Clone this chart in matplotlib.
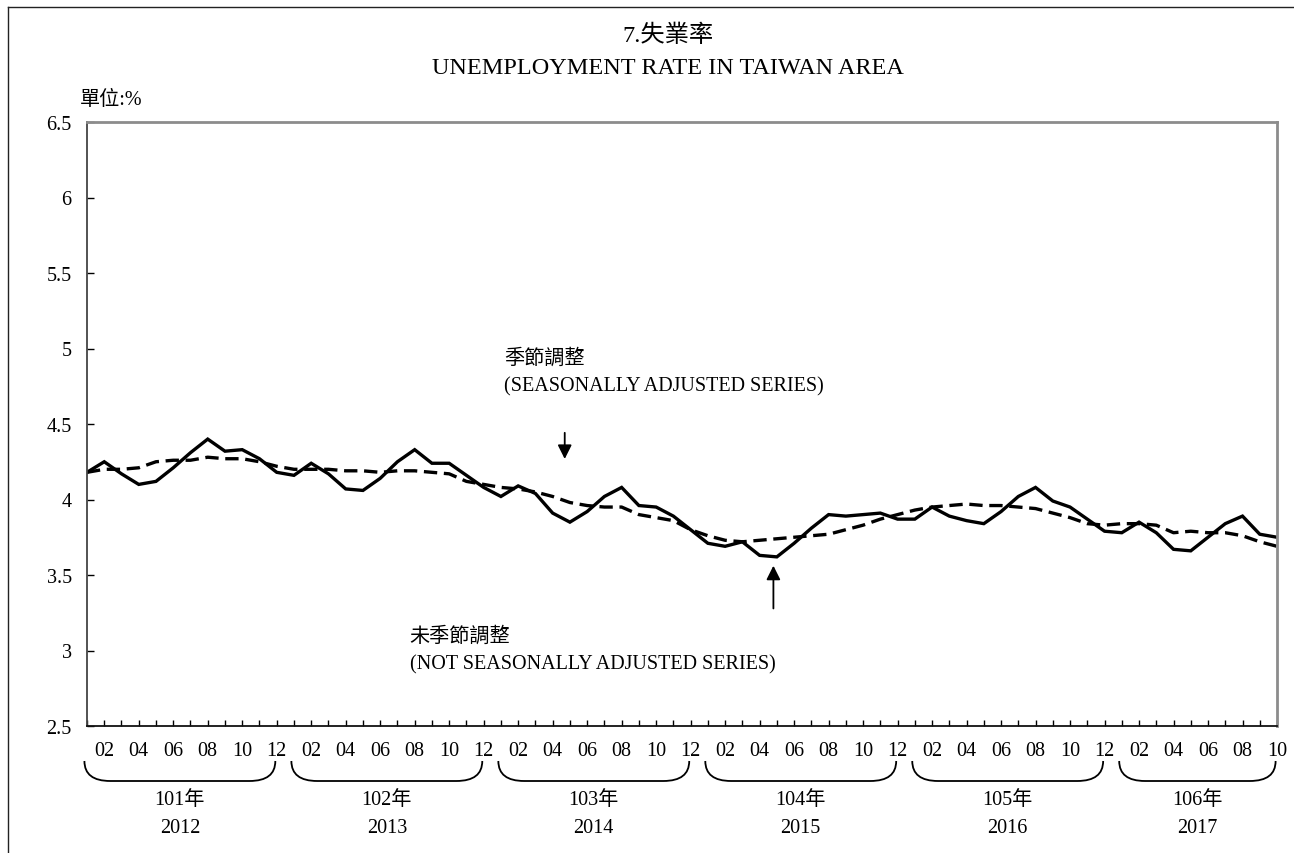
import numpy as np
import matplotlib
matplotlib.use("Agg")
from matplotlib import pyplot as plt
from matplotlib.path import Path
from matplotlib.patches import PathPatch
from matplotlib.lines import Line2D
from matplotlib.transforms import blended_transform_factory

plt.rcParams['font.family'] = ['Liberation Serif', 'Noto Sans CJK TC']

# monthly rates, Jan 2012 .. Oct 2017
not_adjusted = [
    4.18, 4.25, 4.17, 4.10, 4.12, 4.21, 4.31, 4.40, 4.32, 4.33, 4.27, 4.18,
    4.16, 4.24, 4.17, 4.07, 4.06, 4.14, 4.25, 4.33, 4.24, 4.24, 4.16, 4.08,
    4.02, 4.09, 4.04, 3.91, 3.85, 3.92, 4.02, 4.08, 3.96, 3.95, 3.89, 3.80,
    3.71, 3.69, 3.72, 3.63, 3.62, 3.71, 3.81, 3.90, 3.89, 3.90, 3.91, 3.87,
    3.87, 3.95, 3.89, 3.86, 3.84, 3.92, 4.02, 4.08, 3.99, 3.95, 3.87, 3.79,
    3.78, 3.85, 3.78, 3.67, 3.66, 3.75, 3.84, 3.89, 3.77, 3.75,
]
seasonally_adjusted = [
    4.18, 4.20, 4.20, 4.21, 4.25, 4.26, 4.26, 4.28, 4.27, 4.27, 4.25, 4.22,
    4.20, 4.20, 4.20, 4.19, 4.19, 4.18, 4.19, 4.19, 4.18, 4.17, 4.12, 4.10,
    4.08, 4.07, 4.05, 4.02, 3.98, 3.96, 3.95, 3.95, 3.90, 3.88, 3.86, 3.80,
    3.76, 3.73, 3.72, 3.73, 3.74, 3.75, 3.76, 3.77, 3.80, 3.83, 3.87, 3.90,
    3.93, 3.95, 3.96, 3.97, 3.96, 3.96, 3.95, 3.94, 3.91, 3.88, 3.84, 3.83,
    3.84, 3.84, 3.83, 3.78, 3.79, 3.78, 3.78, 3.76, 3.72, 3.69,
]
years_roc = ["101年", "102年", "103年", "104年", "105年", "106年"]
years_ad = ["2012", "2013", "2014", "2015", "2016", "2017"]
y_ticks = [2.5, 3, 3.5, 4, 4.5, 5, 5.5, 6, 6.5]
y_tick_labels = ["2.5", "3", "3.5", "4", "4.5", "5", "5.5", "6", "6.5"]

W, H = 1294, 854
FS = 14.5
fig = plt.figure(figsize=(W / 100, H / 100), dpi=100)
ax = fig.add_axes([87 / W, 1 - 727 / H, (1277 - 87) / W, (727 - 123) / H])

n = len(not_adjusted)
x = np.arange(n)
ax.plot(x, not_adjusted, color='black', lw=2.4, solid_joinstyle='miter')
ax.plot(x, seasonally_adjusted, color='black', lw=2.4, dashes=(4, 2))

ax.set_xlim(0, n - 1)
ax.set_ylim(2.5, 6.5)
ax.set_yticks(y_ticks)
ax.set_yticklabels(y_tick_labels, fontsize=FS)

month_labels = []
for i in x:
    m = i % 12 + 1
    month_labels.append(f"{m:02d}" if m % 2 == 0 else "")
ax.set_xticks(x)
ax.set_xticklabels(month_labels, fontsize=FS)
ax.tick_params(axis='x', direction='in', length=4, width=1, pad=11)
ax.tick_params(axis='y', direction='in', length=5, width=1, pad=11)

ax.spines['left'].set_color('#444444')
ax.spines['bottom'].set_color('#111111')
ax.spines['top'].set_color('#8c8c8c')
ax.spines['right'].set_color('#8c8c8c')
for s in ['top', 'right']:
    ax.spines[s].set_linewidth(2)
for s in ['left', 'bottom']:
    ax.spines[s].set_linewidth(1.3)

# annotations
ax.text(24.2, 4.94, "季節調整", fontsize=FS, va='center', ha='left')
ax.text(24.2, 4.75, "(SEASONALLY ADJUSTED SERIES)", fontsize=FS, va='center', ha='left')
ax.text(18.7, 3.10, "未季節調整", fontsize=FS, va='center', ha='left')
ax.text(18.7, 2.91, "(NOT SEASONALLY ADJUSTED SERIES)", fontsize=FS, va='center', ha='left')
ax.annotate("", xy=(27.7, 4.25), xytext=(27.7, 4.46),
            arrowprops=dict(arrowstyle='-|>', color='black', lw=1.3, mutation_scale=21))
ax.annotate("", xy=(39.8, 3.58), xytext=(39.8, 3.26),
            arrowprops=dict(arrowstyle='-|>', color='black', lw=1.3, mutation_scale=21))

# year braces under the month labels
tr = blended_transform_factory(ax.transData, fig.transFigure)
y_top = 1 - 762 / H
y_bot = 1 - 782 / H
w = 1.5
for k in range(len(years_roc)):
    x0 = 12 * k - 0.15
    x1 = min(12 * k + 11, n - 1) - 0.08
    verts = [(x0, y_top), (x0, y_bot), (x0 + w, y_bot),
             (x1 - w, y_bot),
             (x1, y_bot), (x1, y_top)]
    codes = [Path.MOVETO, Path.CURVE3, Path.CURVE3, Path.LINETO, Path.CURVE3, Path.CURVE3]
    ax.add_patch(PathPatch(Path(verts, codes), fill=False, lw=1.3,
                           edgecolor='black', transform=tr, clip_on=False))
    xc = (x0 + x1) / 2
    ax.text(xc, 1 - 801 / H, years_roc[k], transform=tr, fontsize=FS, ha='center', va='center')
    ax.text(xc, 1 - 829 / H, years_ad[k], transform=tr, fontsize=FS, ha='center', va='center')

# titles
fig.text(668 / W, 1 - 36 / H, "7.失業率", fontsize=17.5, ha='center', va='center')
fig.text(668 / W, 1 - 68 / H, "UNEMPLOYMENT RATE IN TAIWAN AREA", fontsize=17.5, ha='center', va='center')
fig.text(80 / W, 1 - 100 / H, "單位:%", fontsize=FS, ha='left', va='center')

# outer frame (top and left visible)
fig.add_artist(Line2D([8 / W, 8 / W], [0, 1 - 8 / H], color='#222222', lw=1, transform=fig.transFigure))
fig.add_artist(Line2D([8 / W, 1], [1 - 8 / H, 1 - 8 / H], color='#222222', lw=1, transform=fig.transFigure))

fig.savefig("out.png", dpi=100)
